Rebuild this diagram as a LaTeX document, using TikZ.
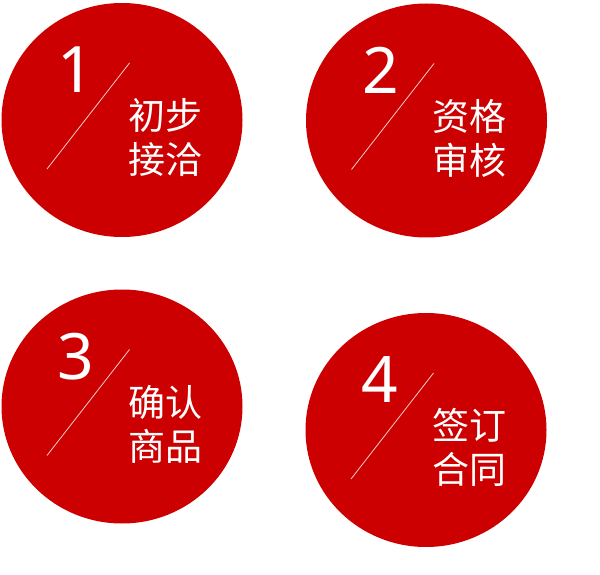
\documentclass[tikz,border=0pt]{standalone}
\usepackage{fontspec}
\setmainfont{Noto Sans}
\newfontfamily\cjk{Noto Sans CJK SC}
\usetikzlibrary{shapes.geometric}
\definecolor{stepred}{HTML}{CC0000}
\tikzset{
  disc/.style={ellipse, fill=stepred, minimum width=241pt, minimum height=234pt, inner sep=0pt},
  stepnum/.style={text=white, inner sep=0pt, font=\fontsize{64}{64}\selectfont},
  steptext/.style={text=white, inner sep=0pt, align=left, font=\cjk\fontsize{37}{44}\selectfont},
  slash/.style={draw=white, draw opacity=0.8, line width=0.8pt}
}
\begin{document}
\begin{tikzpicture}[x=1pt,y=1pt]
  \useasboundingbox (0,0) rectangle (600,574);
  \foreach \i/\x/\y/\a/\b in {1/122/454/初步/接洽, 2/426.5/453.5/资格/审核,
                              3/122/167.5/确认/商品, 4/426/144/签订/合同}{
    \node[disc] (c\i) at (\x,\y) {};
    \node[stepnum] (n\i) at ([shift={(-46,50)}]c\i.center) {\i};
    \coordinate (t\i) at ([shift={(7.5,57)}]c\i.center);
    \coordinate (b\i) at ([shift={(-75,-49)}]c\i.center);
    \draw[slash] (b\i) -- (t\i);
    \node[steptext] (w\i) at ([shift={(43,-17.5)}]c\i.center) {\a\\\b};
  }
\end{tikzpicture}
\end{document}
